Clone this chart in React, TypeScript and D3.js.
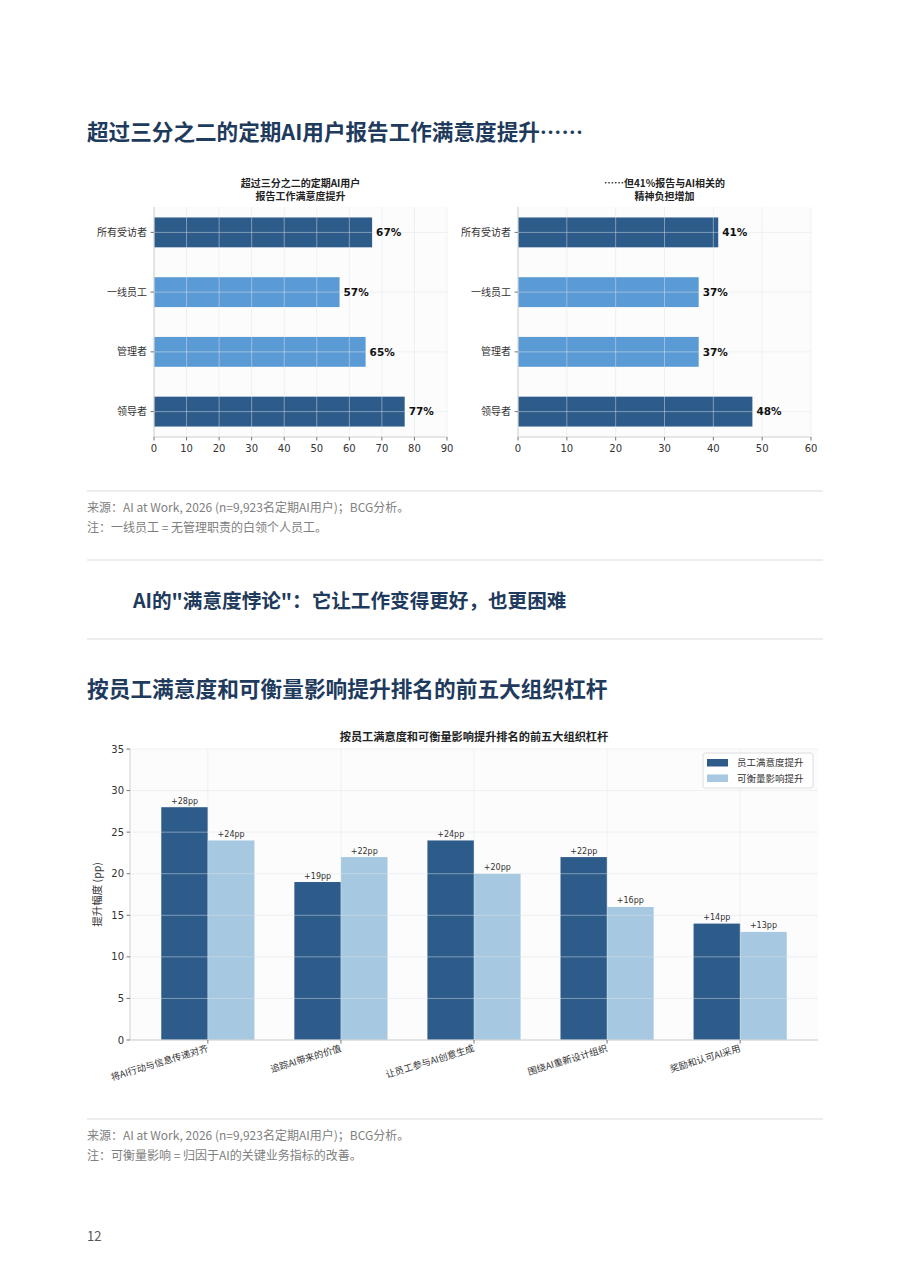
import React from "react";
import * as d3 from "d3";

const groups = ["所有受访者", "一线员工", "管理者", "领导者"];
const satisfactionShare = [67, 57, 65, 77];
const burdenShare = [41, 37, 37, 48];
const groupTone = ["dark", "light", "light", "dark"];
const leftTicks = [0, 10, 20, 30, 40, 50, 60, 70, 80, 90];
const rightTicks = [0, 10, 20, 30, 40, 50, 60];

const levers = [
  "将AI行动与信息传递对齐",
  "追踪AI带来的价值",
  "让员工参与AI创意生成",
  "围绕AI重新设计组织",
  "奖励和认可AI采用",
];
const satisfactionLift = [28, 19, 24, 22, 14];
const impactLift = [24, 22, 20, 16, 13];
const liftTicks = [0, 5, 10, 15, 20, 25, 30, 35];
const seriesNames = ["员工满意度提升", "可衡量影响提升"];

const DARK = "#2d5b8a";
const LIGHT = "#5b9bd5";
const PALE = "#a6c8e0";
const HEAD = "#1e3a5c";
const CJK = "'Noto Sans CJK SC', 'Noto Sans', sans-serif";
const NUM = "'DejaVu Sans', 'Noto Sans CJK SC', sans-serif";

function HBarChart({
  x0, x1, max, ticks, values, title,
}: { x0: number; x1: number; max: number; ticks: number[]; values: number[]; title: string[] }) {
  const top = 207, bottom = 437;
  const x = d3.scaleLinear().domain([0, max]).range([x0, x1]);
  const y = d3.scaleLinear().domain([-0.425, 3.425]).range([top, bottom]);
  const h = y(0.25) - y(-0.25);
  const cx = (x0 + x1) / 2;
  return (
    <g>
      <rect x={x0} y={top} width={x1 - x0} height={bottom - top} fill="#fcfcfc" />
      {title.map((t, i) => (
        <text key={i} x={cx} y={187 + i * 13} textAnchor="middle" fontSize={10} fontWeight="bold" fontFamily={CJK} fill="#222">{t}</text>
      ))}
      {values.map((v, i) => (
        <rect key={i} x={x(0)} y={y(i) - h / 2} width={x(v) - x(0)} height={h} fill={groupTone[i] === "dark" ? DARK : LIGHT} />
      ))}
      {ticks.map((t) => (
        <line key={"gx" + t} x1={x(t)} x2={x(t)} y1={top} y2={bottom} stroke="#dde3ea" strokeOpacity={0.6} strokeWidth={0.8} />
      ))}
      {groups.map((g, i) => (
        <line key={"gy" + i} x1={x0} x2={x1} y1={y(i)} y2={y(i)} stroke="#dde3ea" strokeOpacity={0.6} strokeWidth={0.8} />
      ))}
      <line x1={x0} x2={x0} y1={top} y2={bottom} stroke="#d0d0d0" strokeWidth={1} />
      <line x1={x0} x2={x1} y1={bottom} y2={bottom} stroke="#d0d0d0" strokeWidth={1} />
      {ticks.map((t) => (
        <g key={"t" + t}>
          <line x1={x(t)} x2={x(t)} y1={bottom} y2={bottom + 3.5} stroke="#555" strokeWidth={0.8} />
          <text x={x(t)} y={452} textAnchor="middle" fontSize={10} fontFamily={NUM} fill="#333">{t}</text>
        </g>
      ))}
      {groups.map((g, i) => (
        <g key={"l" + i}>
          <line x1={x0 - 3.5} x2={x0} y1={y(i)} y2={y(i)} stroke="#555" strokeWidth={0.8} />
          <text x={x0 - 7} y={y(i) + 3.5} textAnchor="end" fontSize={10} fontFamily={CJK} fill="#333">{g}</text>
        </g>
      ))}
      {values.map((v, i) => (
        <text key={"v" + i} x={x(v) + 4} y={y(i) + 3.8} fontSize={10.5} fontWeight="bold" fontFamily={NUM} fill="#111">{v}%</text>
      ))}
    </g>
  );
}

function GroupedChart() {
  const left = 130, right = 818, top = 749, bottom = 1040;
  const x = d3.scaleLinear().domain([-0.585, 4.585]).range([left, right]);
  const y = d3.scaleLinear().domain([0, 35]).range([bottom, top]);
  const bw = 0.35;
  const series = [satisfactionLift, impactLift];
  const colors = [DARK, PALE];
  return (
    <g>
      <rect x={left} y={top} width={right - left} height={bottom - top} fill="#fcfcfc" />
      <text x={474} y={741} textAnchor="middle" fontSize={11.2} fontWeight="bold" fontFamily={CJK} fill="#222">按员工满意度和可衡量影响提升排名的前五大组织杠杆</text>
      {series.map((vals, s) =>
        vals.map((v, i) => {
          const bx = s === 0 ? x(i - bw) : x(i);
          return <rect key={s + "-" + i} x={bx} y={y(v)} width={x(bw) - x(0)} height={y(0) - y(v)} fill={colors[s]} />;
        })
      )}
      {liftTicks.map((t) => (
        <line key={"gy" + t} x1={left} x2={right} y1={y(t)} y2={y(t)} stroke="#dde3ea" strokeOpacity={0.6} strokeWidth={0.8} />
      ))}
      {levers.map((l, i) => (
        <line key={"gx" + i} x1={x(i)} x2={x(i)} y1={top} y2={bottom} stroke="#dde3ea" strokeOpacity={0.6} strokeWidth={0.8} />
      ))}
      <line x1={left} x2={left} y1={top} y2={bottom} stroke="#d0d0d0" strokeWidth={1} />
      <line x1={left} x2={right} y1={bottom} y2={bottom} stroke="#d0d0d0" strokeWidth={1} />
      {liftTicks.map((t) => (
        <g key={"yt" + t}>
          <line x1={left - 3.5} x2={left} y1={y(t)} y2={y(t)} stroke="#555" strokeWidth={0.8} />
          <text x={left - 6} y={y(t) + 3.6} textAnchor="end" fontSize={10} fontFamily={NUM} fill="#333">{t}</text>
        </g>
      ))}
      <text transform={`translate(101,${(top + bottom) / 2}) rotate(-90)`} textAnchor="middle" fontSize={10.5} fontFamily={CJK} fill="#333">提升幅度 (pp)</text>
      {levers.map((l, i) => (
        <g key={"xt" + i}>
          <line x1={x(i)} x2={x(i)} y1={bottom} y2={bottom + 3.5} stroke="#555" strokeWidth={0.8} />
          <text transform={`translate(${x(i) + 1},${bottom + 11}) rotate(-17)`} textAnchor="end" fontSize={9.3} fontFamily={CJK} fill="#333">{l}</text>
        </g>
      ))}
      {series.map((vals, s) =>
        vals.map((v, i) => {
          const cx = s === 0 ? x(i - bw / 2) : x(i + bw / 2);
          return <text key={"v" + s + i} x={cx} y={y(v) - 3.5} textAnchor="middle" fontSize={8} fontFamily={NUM} fill="#333">+{v}pp</text>;
        })
      )}
      <rect x={703} y={753} width={110} height={35} rx={2} fill="#fff" fillOpacity={0.9} stroke="#d6d6d6" strokeWidth={0.8} />
      {seriesNames.map((n, k) => (
        <g key={n}>
          <rect x={707} y={759 + k * 15.5} width={21} height={7.5} fill={colors[k]} />
          <text x={737} y={766 + k * 15.5} fontSize={9.5} fontFamily={CJK} fill="#333">{n}</text>
        </g>
      ))}
    </g>
  );
}

function Rule({ y }: { y: number }) {
  return <line x1={87} x2={823} y1={y} y2={y} stroke="#dcdcdc" strokeWidth={1} />;
}

export default function App() {
  return (
    <div style={{ position: "absolute", left: 0, top: 0, background: "#fff" }}>
      <svg width={909} height={1287} viewBox="0 0 909 1287" style={{ display: "block" }}>
        <rect width={909} height={1287} fill="#fff" />
        <text x={87} y={140} fontSize={21.6} fontWeight="bold" fontFamily={CJK} fill={HEAD}>超过三分之二的定期AI用户报告工作满意度提升……</text>
        <HBarChart x0={154} x1={447} max={90} ticks={leftTicks} values={satisfactionShare} title={["超过三分之二的定期AI用户", "报告工作满意度提升"]} />
        <HBarChart x0={518} x1={811} max={60} ticks={rightTicks} values={burdenShare} title={["……但41%报告与AI相关的", "精神负担增加"]} />
        <Rule y={491} />
        <text x={87} y={512} fontSize={12} fontFamily={CJK} fill="#808080">来源：AI at Work, 2026 (n=9,923名定期AI用户)；BCG分析。</text>
        <text x={87} y={532} fontSize={12} fontFamily={CJK} fill="#808080">注：一线员工 = 无管理职责的白领个人员工。</text>
        <Rule y={560} />
        <text x={133} y={608} fontSize={19.6} fontWeight="bold" fontFamily={CJK} fill={HEAD}>AI的"满意度悖论"：它让工作变得更好，也更困难</text>
        <Rule y={639} />
        <text x={87} y={697} fontSize={21.7} fontWeight="bold" fontFamily={CJK} fill={HEAD}>按员工满意度和可衡量影响提升排名的前五大组织杠杆</text>
        <GroupedChart />
        <Rule y={1119} />
        <text x={87} y={1140} fontSize={12} fontFamily={CJK} fill="#808080">来源：AI at Work, 2026 (n=9,923名定期AI用户)；BCG分析。</text>
        <text x={87} y={1160} fontSize={12} fontFamily={CJK} fill="#808080">注：可衡量影响 = 归因于AI的关键业务指标的改善。</text>
        <text x={87} y={1241} fontSize={13} fontFamily={CJK} fill="#555">12</text>
      </svg>
    </div>
  );
}
